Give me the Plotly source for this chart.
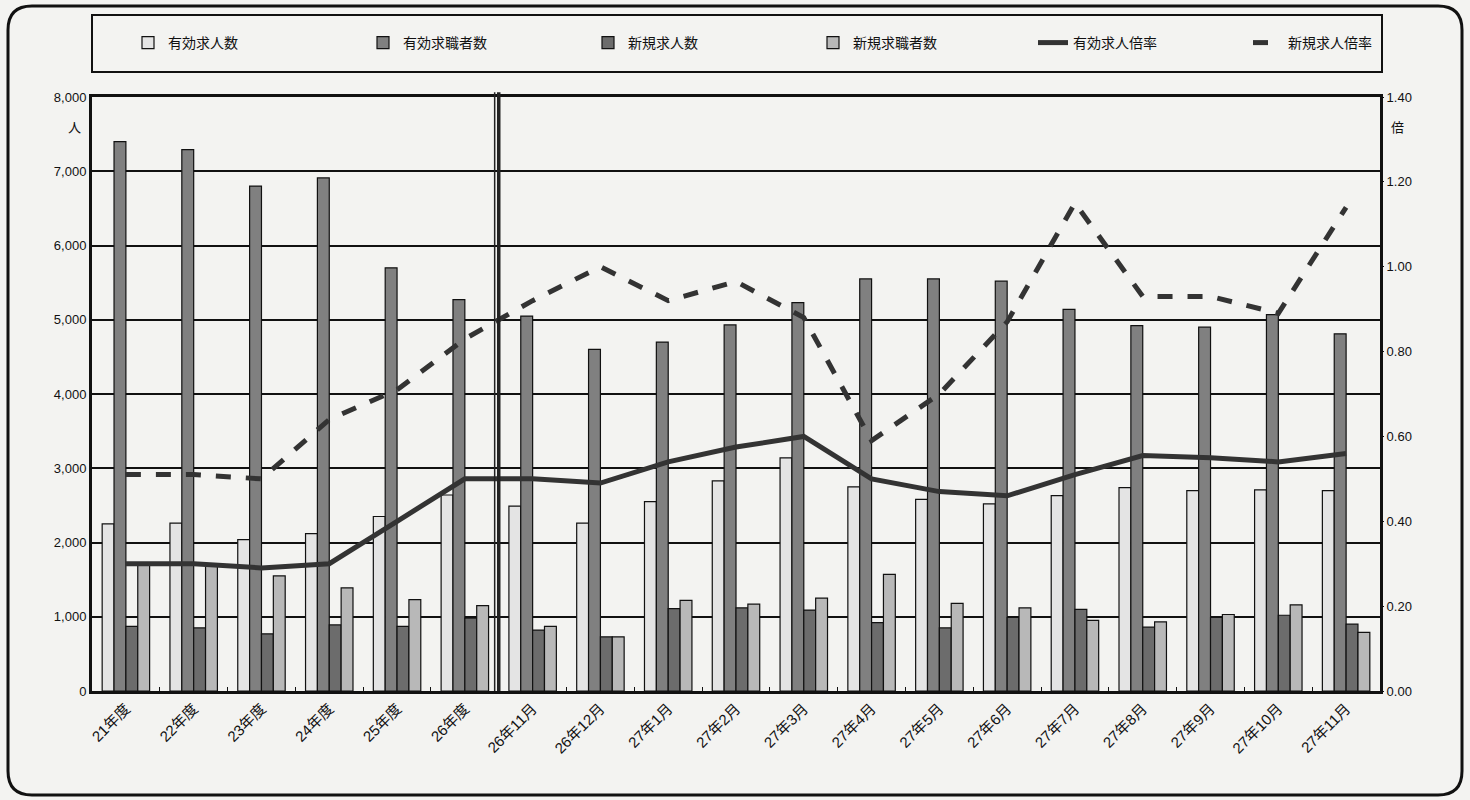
import plotly.graph_objects as go

categories = ["21年度", "22年度", "23年度", "24年度", "25年度", "26年度",
              "26年11月", "26年12月", "27年1月", "27年2月", "27年3月", "27年4月",
              "27年5月", "27年6月", "27年7月", "27年8月", "27年9月", "27年10月", "27年11月"]

yuko_kyujin = [2250, 2260, 2040, 2120, 2350, 2640, 2490, 2260, 2550, 2830, 3140, 2750,
               2580, 2520, 2630, 2740, 2700, 2710, 2700]
yuko_kyushoku = [7400, 7290, 6800, 6910, 5700, 5270, 5050, 4600, 4700, 4930, 5230, 5550,
                 5550, 5520, 5140, 4920, 4900, 5070, 4810]
shinki_kyujin = [870, 850, 770, 890, 870, 980, 820, 730, 1110, 1120, 1090, 920,
                 850, 990, 1100, 860, 990, 1020, 900]
shinki_kyushoku = [1690, 1690, 1550, 1390, 1230, 1150, 870, 730, 1220, 1170, 1250, 1570,
                   1180, 1120, 950, 930, 1030, 1160, 790]
yuko_bairitsu = [0.30, 0.30, 0.29, 0.30, 0.40, 0.50, 0.50, 0.49, 0.54, 0.575, 0.60, 0.50,
                 0.47, 0.46, 0.51, 0.555, 0.55, 0.54, 0.56]
shinki_bairitsu = [0.51, 0.51, 0.50, 0.64, 0.71, 0.83, 0.92, 1.00, 0.92, 0.965, 0.88, 0.59,
                   0.70, 0.87, 1.15, 0.93, 0.93, 0.89, 1.14]

W, H = 1470, 800
L, R, T, B = 92, 90, 97, 109
PW, PH = W - L - R, H - T - B

def px(x):
    return (x - L) / PW

def py(y):
    return (H - B - y) / PH

FONT = "Liberation Sans, Arial, Noto Sans CJK JP, sans-serif"
INK = "#111111"

fig = go.Figure()
bar_line = dict(color=INK, width=1.2)
fig.add_trace(go.Bar(x=categories, y=yuko_kyujin, name="有効求人数", legend="legend",
                     marker=dict(color="#e4e4e4", line=bar_line)))
fig.add_trace(go.Bar(x=categories, y=yuko_kyushoku, name="有効求職者数", legend="legend2",
                     marker=dict(color="#808080", line=bar_line)))
fig.add_trace(go.Bar(x=categories, y=shinki_kyujin, name="新規求人数", legend="legend3",
                     marker=dict(color="#6c6c6c", line=bar_line)))
fig.add_trace(go.Bar(x=categories, y=shinki_kyushoku, name="新規求職者数", legend="legend4",
                     marker=dict(color="#b8b8b8", line=bar_line)))
fig.add_trace(go.Scatter(x=categories, y=yuko_bairitsu, name="有効求人倍率", yaxis="y2",
                         legend="legend5", mode="lines",
                         line=dict(color="#333333", width=5)))
fig.add_trace(go.Scatter(x=categories, y=shinki_bairitsu, name="新規求人倍率", yaxis="y2",
                         legend="legend6", mode="lines",
                         line=dict(color="#333333", width=5, dash="dash")))

shapes = []
# divider between annual and monthly data
shapes.append(dict(type="line", xref="x", yref="paper", x0=5.44, x1=5.44, y0=0, y1=1.008,
                   line=dict(color="#222222", width=1.5)))
shapes.append(dict(type="line", xref="x", yref="paper", x0=5.5, x1=5.5, y0=0, y1=1.008,
                   line=dict(color="#222222", width=3.5)))
# legend box
shapes.append(dict(type="rect", xref="paper", yref="paper",
                   x0=px(92), x1=px(1382), y0=py(72), y1=py(15),
                   line=dict(color=INK, width=2), layer="below"))
# outer rounded frame
x0, x1, y0, y1, r = 8, 1462, 6, 795, 24
path = (f"M {px(x0 + r)},{py(y0)} L {px(x1 - r)},{py(y0)} "
        f"Q {px(x1)},{py(y0)} {px(x1)},{py(y0 + r)} "
        f"L {px(x1)},{py(y1 - r)} Q {px(x1)},{py(y1)} {px(x1 - r)},{py(y1)} "
        f"L {px(x0 + r)},{py(y1)} Q {px(x0)},{py(y1)} {px(x0)},{py(y1 - r)} "
        f"L {px(x0)},{py(y0 + r)} Q {px(x0)},{py(y0)} {px(x0 + r)},{py(y0)} Z")
shapes.append(dict(type="path", xref="paper", yref="paper", path=path,
                   line=dict(color=INK, width=3), layer="below"))

tf = dict(family=FONT, size=13, color=INK)

legend_text_x = [170, 405, 630, 855, 1075, 1290]
legend_names = ["legend", "legend2", "legend3", "legend4", "legend5", "legend6"]
legends = {}
for name, tx in zip(legend_names, legend_text_x):
    legends[name] = dict(orientation="h", x=px(tx - 42), xanchor="left", y=py(43),
                         yanchor="middle", font=dict(family=FONT, size=14, color=INK),
                         bgcolor="rgba(0,0,0,0)")

fig.update_layout(
    template="none",
    width=W, height=H,
    margin=dict(l=L, r=R, t=T, b=B),
    paper_bgcolor="#f3f3f1", plot_bgcolor="#f3f3f1",
    font=dict(family=FONT, size=13, color=INK),
    barmode="group", bargap=0.3, bargroupgap=0,
    showlegend=True,
    **legends,
    xaxis=dict(type="category", tickangle=-45, tickfont=dict(family=FONT, size=15, color=INK),
               showline=True, linecolor=INK, linewidth=3, mirror=True,
               ticks="inside", ticklen=4, tickcolor=INK, tickson="boundaries",
               showgrid=False, range=[-0.5, len(categories) - 0.5]),
    yaxis=dict(range=[0, 8000], dtick=1000, tickformat=",d", showgrid=True,
               gridcolor=INK, gridwidth=1.5, showline=True, linecolor=INK,
               linewidth=3, mirror=True, ticks="", zeroline=False, tickfont=tf),
    yaxis2=dict(range=[0, 1.4], dtick=0.2, tickformat=".2f", overlaying="y", side="right",
                showgrid=False, zeroline=False, ticks="outside", ticklen=3,
                tickcolor=INK, tickfont=tf, showline=False),
    shapes=shapes,
    annotations=[
        dict(text="人", xref="paper", yref="paper", x=px(66), y=py(118), showarrow=False,
             font=tf),
        dict(text="倍", xref="paper", yref="paper", x=px(1406), y=py(118), showarrow=False,
             font=tf),
    ],
)

fig.write_html("out.html")
